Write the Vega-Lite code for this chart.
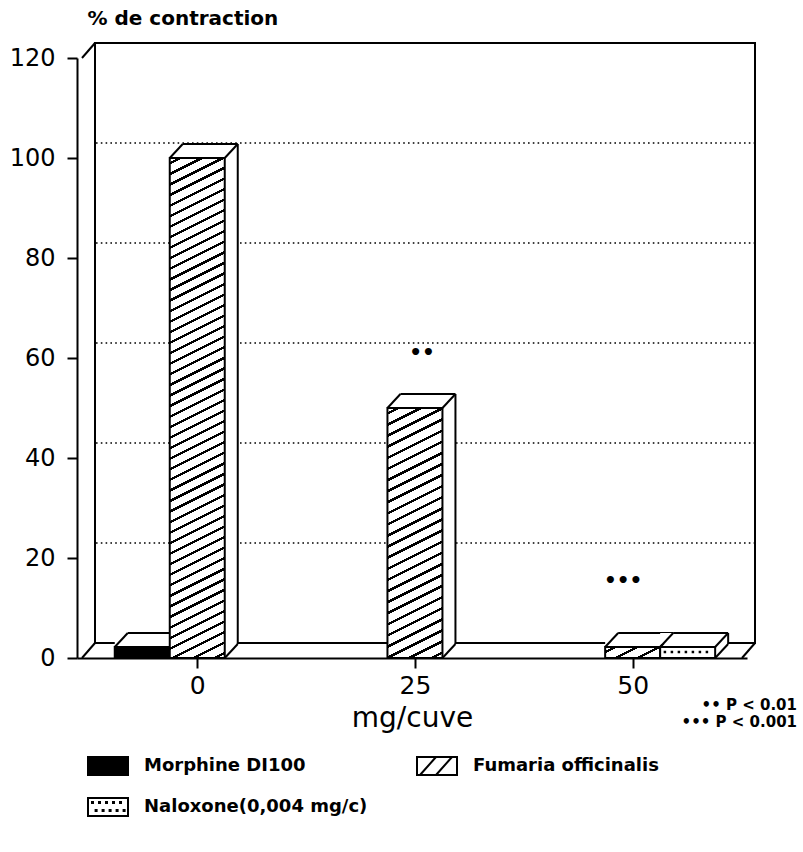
{
  "$schema": "https://vega.github.io/schema/vega-lite/v6.json",
  "width": 670,
  "height": 600,
  "autosize": {"type": "none"},
  "padding": {"left": 77, "top": 58, "right": 56, "bottom": 194},
  "background": "white",
  "config": {"view": {"stroke": null}, "font": "DejaVu Sans"},
  "datasets": {
    "bars": [
      {"dose": 0, "series": "Morphine DI100", "value": 2.2},
      {"dose": 0, "series": "Fumaria officinalis", "value": 100},
      {"dose": 25, "series": "Fumaria officinalis", "value": 50},
      {"dose": 50, "series": "Fumaria officinalis", "value": 2.2},
      {"dose": 50, "series": "Naloxone(0,004 mg/c)", "value": 2.2}
    ],
    "grid": [{"value": 20}, {"value": 40}, {"value": 60}, {"value": 80}, {"value": 100}],
    "stars": [
      {"dose": 25.8, "value": 61, "label": "••"},
      {"dose": 48.9, "value": 15.4, "label": "•••"}
    ],
    "frame": [{}]
  },
  "layer": [
    {
      "data": {"name": "frame"},
      "mark": {"type": "rect", "fill": "transparent", "stroke": "black", "strokeWidth": 2, "xOffset": 13, "x2Offset": 13, "yOffset": -15, "y2Offset": -15},
      "encoding": {
        "x": {"datum": -13.235, "type": "quantitative"},
        "x2": {"datum": 62.557},
        "y": {"datum": 0, "type": "quantitative"},
        "y2": {"datum": 120}
      }
    },
    {
      "data": {"name": "grid"},
      "mark": {"type": "rule", "stroke": "black", "strokeWidth": 1.6, "strokeDash": [1.6, 3.2], "xOffset": 14, "x2Offset": 12, "yOffset": -15, "y2Offset": -15},
      "encoding": {
        "x": {"datum": -13.235, "type": "quantitative"},
        "x2": {"datum": 62.557},
        "y": {"field": "value", "type": "quantitative"},
        "y2": {"field": "value"}
      }
    },
    {
      "data": {"name": "frame"},
      "mark": {"type": "rule", "stroke": "black", "strokeWidth": 2, "x2Offset": 13, "y2Offset": -15},
      "encoding": {"x": {"datum": -13.235, "type": "quantitative"}, "x2": {"datum": -13.235}, "y": {"datum": 120, "type": "quantitative"}, "y2": {"datum": 120}}
    },
    {
      "data": {"name": "frame"},
      "mark": {"type": "rule", "stroke": "black", "strokeWidth": 2, "x2Offset": 13, "y2Offset": -15},
      "encoding": {"x": {"datum": -13.235, "type": "quantitative"}, "x2": {"datum": -13.235}, "y": {"datum": 0, "type": "quantitative"}, "y2": {"datum": 0}}
    },
    {
      "data": {"name": "frame"},
      "mark": {"type": "rule", "stroke": "black", "strokeWidth": 2, "x2Offset": 13, "y2Offset": -15},
      "encoding": {"x": {"datum": 62.557, "type": "quantitative"}, "x2": {"datum": 62.557}, "y": {"datum": 0, "type": "quantitative"}, "y2": {"datum": 0}}
    },
    {
      "data": {"name": "bars"},
      "mark": {"type": "point", "filled": true, "opacity": 0, "stroke": "black"},
      "encoding": {
        "x": {"field": "dose", "type": "quantitative", "scale": {"domain": [-13.235, 62.557], "nice": false, "zero": false},
          "axis": {"values": [0, 25, 50], "title": "mg/cuve", "grid": false, "domainColor": "black", "domainWidth": 2, "tickColor": "black", "tickWidth": 2, "tickSize": 10, "labelFont": "DejaVu Sans", "labelFontSize": 25, "labelColor": "black", "labelPadding": 5, "labelFlush": false, "titleFont": "DejaVu Sans", "titleFontSize": 28, "titleFontWeight": "normal", "titleColor": "black", "titlePadding": 6}},
        "y": {"field": "value", "type": "quantitative", "scale": {"domain": [0, 120], "nice": false, "zero": true},
          "axis": {"values": [0, 20, 40, 60, 80, 100, 120], "title": "% de contraction", "grid": false, "domainColor": "black", "domainWidth": 2, "tickColor": "black", "tickWidth": 2, "tickSize": 10, "labelFont": "DejaVu Sans", "labelFontSize": 24, "labelColor": "black", "labelPadding": 12, "titleFont": "DejaVu Sans", "titleFontSize": 20, "titleFontWeight": "bold", "titleColor": "black", "titleAngle": 0, "titleAlign": "left", "titleBaseline": "middle", "titleX": 10, "titleY": -40}},
        "color": {"field": "series", "type": "nominal",
          "scale": {"domain": ["Morphine DI100", "Fumaria officinalis", "Naloxone(0,004 mg/c)"], "range": ["black", "white", "white"]},
          "legend": {"orient": "none", "legendX": 10, "legendY": 687, "direction": "horizontal", "columns": 2, "title": null, "symbolSize": 1600, "symbolStrokeWidth": 2, "symbolStrokeColor": "black", "symbolOpacity": 1, "labelFont": "DejaVu Sans", "labelFontSize": 18, "labelFontWeight": "bold", "labelColor": "black", "labelOffset": 15, "labelLimit": 400, "columnPadding": 45, "rowPadding": 7, "padding": 0,
            "encode": {"symbols": {"update": {"stroke": {"value": "black"}, "strokeWidth": {"value": 2}, "opacity": {"value": 1}}}}}},
        "shape": {"field": "series", "type": "nominal",
          "scale": {"domain": ["Morphine DI100", "Fumaria officinalis", "Naloxone(0,004 mg/c)"],
            "range": [
              "M-1,-0.45H1V0.45H-1Z",
              "M-1,-0.45H1V0.45H-1Z M-0.85,0.45L-0.05,-0.45 M-0.05,0.45L0.75,-0.45",
              "M-1,-0.45H1V0.45H-1Z M-0.8,-0.25h0.05v0.05h-0.05Z M-0.45,-0.25h0.05v0.05h-0.05Z M-0.1,-0.25h0.05v0.05h-0.05Z M0.25,-0.25h0.05v0.05h-0.05Z M0.6,-0.25h0.05v0.05h-0.05Z M-0.62,0.15h0.05v0.05h-0.05Z M-0.27,0.15h0.05v0.05h-0.05Z M0.08,0.15h0.05v0.05h-0.05Z M0.43,0.15h0.05v0.05h-0.05Z M0.78,0.15h0.05v0.05h-0.05Z"
            ]},
          "legend": {"orient": "none", "legendX": 10, "legendY": 687, "direction": "horizontal", "columns": 2, "title": null, "symbolSize": 1600, "symbolStrokeWidth": 2, "symbolStrokeColor": "black", "symbolOpacity": 1, "labelFont": "DejaVu Sans", "labelFontSize": 18, "labelFontWeight": "bold", "labelColor": "black", "labelOffset": 15, "labelLimit": 400, "columnPadding": 45, "rowPadding": 7, "padding": 0,
            "encode": {"symbols": {"update": {"stroke": {"value": "black"}, "strokeWidth": {"value": 2}, "opacity": {"value": 1}}}}}}
      }
    },
    {
      "data": {"name": "bars"},
      "transform": [{"filter": {"field": "series", "equal": "Morphine DI100"}}],
      "mark": {"type": "bar", "orient": "vertical", "width": 68, "xOffset": -48.5, "yOffset": -14, "y2Offset": -14, "fill": "white", "strokeWidth": 0},
      "encoding": {"x": {"field": "dose", "type": "quantitative"}, "y": {"field": "value", "type": "quantitative", "stack": null}, "y2": {"datum": 0}}
    },
    {
      "data": {"name": "bars"},
      "transform": [{"filter": {"field": "series", "equal": "Morphine DI100"}}],
      "mark": {"type": "bar", "orient": "vertical", "width": 55, "xOffset": -55, "fill": "black", "stroke": "black", "strokeWidth": 2},
      "encoding": {"x": {"field": "dose", "type": "quantitative"}, "y": {"field": "value", "type": "quantitative", "stack": null}, "y2": {"datum": 0}}
    },
    {
      "data": {"name": "bars"},
      "transform": [{"filter": {"field": "series", "equal": "Morphine DI100"}}],
      "mark": {"type": "rule", "stroke": "black", "strokeWidth": 2, "xOffset": -69.5, "x2Offset": -14.5, "yOffset": -14, "y2Offset": -14},
      "encoding": {"x": {"field": "dose", "type": "quantitative"}, "x2": {"field": "dose"}, "y": {"field": "value", "type": "quantitative"}, "y2": {"field": "value"}}
    },
    {
      "data": {"name": "bars"},
      "transform": [{"filter": {"field": "series", "equal": "Morphine DI100"}}],
      "mark": {"type": "rule", "stroke": "black", "strokeWidth": 2, "xOffset": -82.5, "x2Offset": -69.5, "y2Offset": -14},
      "encoding": {"x": {"field": "dose", "type": "quantitative"}, "x2": {"field": "dose"}, "y": {"field": "value", "type": "quantitative"}, "y2": {"field": "value"}}
    },
    {
      "data": {"name": "bars"},
      "transform": [{"filter": {"field": "series", "equal": "Fumaria officinalis"}}],
      "mark": {"type": "bar", "orient": "vertical", "width": 68, "xOffset": 6.5, "yOffset": -14, "y2Offset": -14, "fill": "white", "strokeWidth": 0},
      "encoding": {"x": {"field": "dose", "type": "quantitative"}, "y": {"field": "value", "type": "quantitative", "stack": null}, "y2": {"datum": 0}}
    },
    {
      "data": {"name": "bars"},
      "transform": [{"filter": {"field": "series", "equal": "Fumaria officinalis"}}, {"filter": {"field": "dose", "equal": 0}}],
      "mark": {"type": "bar", "orient": "vertical", "width": 55, "stroke": "black", "strokeWidth": 2,
        "fill": {"gradient": "linear", "x1": 0, "y1": 0, "x2": 0.05785, "y2": 1.05182, "stops": [
          {"offset": 0.008, "color": "#fff"}, {"offset": 0.008, "color": "#000"}, {"offset": 0.013, "color": "#000"}, {"offset": 0.013, "color": "#fff"},
          {"offset": 0.028, "color": "#fff"}, {"offset": 0.028, "color": "#000"}, {"offset": 0.033, "color": "#000"}, {"offset": 0.033, "color": "#fff"},
          {"offset": 0.048, "color": "#fff"}, {"offset": 0.048, "color": "#000"}, {"offset": 0.053, "color": "#000"}, {"offset": 0.053, "color": "#fff"},
          {"offset": 0.068, "color": "#fff"}, {"offset": 0.068, "color": "#000"}, {"offset": 0.073, "color": "#000"}, {"offset": 0.073, "color": "#fff"},
          {"offset": 0.088, "color": "#fff"}, {"offset": 0.088, "color": "#000"}, {"offset": 0.093, "color": "#000"}, {"offset": 0.093, "color": "#fff"},
          {"offset": 0.108, "color": "#fff"}, {"offset": 0.108, "color": "#000"}, {"offset": 0.113, "color": "#000"}, {"offset": 0.113, "color": "#fff"},
          {"offset": 0.128, "color": "#fff"}, {"offset": 0.128, "color": "#000"}, {"offset": 0.133, "color": "#000"}, {"offset": 0.133, "color": "#fff"},
          {"offset": 0.148, "color": "#fff"}, {"offset": 0.148, "color": "#000"}, {"offset": 0.153, "color": "#000"}, {"offset": 0.153, "color": "#fff"},
          {"offset": 0.168, "color": "#fff"}, {"offset": 0.168, "color": "#000"}, {"offset": 0.173, "color": "#000"}, {"offset": 0.173, "color": "#fff"},
          {"offset": 0.188, "color": "#fff"}, {"offset": 0.188, "color": "#000"}, {"offset": 0.193, "color": "#000"}, {"offset": 0.193, "color": "#fff"},
          {"offset": 0.208, "color": "#fff"}, {"offset": 0.208, "color": "#000"}, {"offset": 0.213, "color": "#000"}, {"offset": 0.213, "color": "#fff"},
          {"offset": 0.228, "color": "#fff"}, {"offset": 0.228, "color": "#000"}, {"offset": 0.233, "color": "#000"}, {"offset": 0.233, "color": "#fff"},
          {"offset": 0.248, "color": "#fff"}, {"offset": 0.248, "color": "#000"}, {"offset": 0.253, "color": "#000"}, {"offset": 0.253, "color": "#fff"},
          {"offset": 0.268, "color": "#fff"}, {"offset": 0.268, "color": "#000"}, {"offset": 0.273, "color": "#000"}, {"offset": 0.273, "color": "#fff"},
          {"offset": 0.288, "color": "#fff"}, {"offset": 0.288, "color": "#000"}, {"offset": 0.293, "color": "#000"}, {"offset": 0.293, "color": "#fff"},
          {"offset": 0.308, "color": "#fff"}, {"offset": 0.308, "color": "#000"}, {"offset": 0.313, "color": "#000"}, {"offset": 0.313, "color": "#fff"},
          {"offset": 0.328, "color": "#fff"}, {"offset": 0.328, "color": "#000"}, {"offset": 0.333, "color": "#000"}, {"offset": 0.333, "color": "#fff"},
          {"offset": 0.348, "color": "#fff"}, {"offset": 0.348, "color": "#000"}, {"offset": 0.353, "color": "#000"}, {"offset": 0.353, "color": "#fff"},
          {"offset": 0.368, "color": "#fff"}, {"offset": 0.368, "color": "#000"}, {"offset": 0.373, "color": "#000"}, {"offset": 0.373, "color": "#fff"},
          {"offset": 0.388, "color": "#fff"}, {"offset": 0.388, "color": "#000"}, {"offset": 0.393, "color": "#000"}, {"offset": 0.393, "color": "#fff"},
          {"offset": 0.408, "color": "#fff"}, {"offset": 0.408, "color": "#000"}, {"offset": 0.413, "color": "#000"}, {"offset": 0.413, "color": "#fff"},
          {"offset": 0.428, "color": "#fff"}, {"offset": 0.428, "color": "#000"}, {"offset": 0.433, "color": "#000"}, {"offset": 0.433, "color": "#fff"},
          {"offset": 0.448, "color": "#fff"}, {"offset": 0.448, "color": "#000"}, {"offset": 0.453, "color": "#000"}, {"offset": 0.453, "color": "#fff"},
          {"offset": 0.468, "color": "#fff"}, {"offset": 0.468, "color": "#000"}, {"offset": 0.473, "color": "#000"}, {"offset": 0.473, "color": "#fff"},
          {"offset": 0.488, "color": "#fff"}, {"offset": 0.488, "color": "#000"}, {"offset": 0.493, "color": "#000"}, {"offset": 0.493, "color": "#fff"},
          {"offset": 0.508, "color": "#fff"}, {"offset": 0.508, "color": "#000"}, {"offset": 0.513, "color": "#000"}, {"offset": 0.513, "color": "#fff"},
          {"offset": 0.528, "color": "#fff"}, {"offset": 0.528, "color": "#000"}, {"offset": 0.533, "color": "#000"}, {"offset": 0.533, "color": "#fff"},
          {"offset": 0.548, "color": "#fff"}, {"offset": 0.548, "color": "#000"}, {"offset": 0.553, "color": "#000"}, {"offset": 0.553, "color": "#fff"},
          {"offset": 0.568, "color": "#fff"}, {"offset": 0.568, "color": "#000"}, {"offset": 0.573, "color": "#000"}, {"offset": 0.573, "color": "#fff"},
          {"offset": 0.588, "color": "#fff"}, {"offset": 0.588, "color": "#000"}, {"offset": 0.593, "color": "#000"}, {"offset": 0.593, "color": "#fff"},
          {"offset": 0.608, "color": "#fff"}, {"offset": 0.608, "color": "#000"}, {"offset": 0.613, "color": "#000"}, {"offset": 0.613, "color": "#fff"},
          {"offset": 0.628, "color": "#fff"}, {"offset": 0.628, "color": "#000"}, {"offset": 0.633, "color": "#000"}, {"offset": 0.633, "color": "#fff"},
          {"offset": 0.648, "color": "#fff"}, {"offset": 0.648, "color": "#000"}, {"offset": 0.653, "color": "#000"}, {"offset": 0.653, "color": "#fff"},
          {"offset": 0.668, "color": "#fff"}, {"offset": 0.668, "color": "#000"}, {"offset": 0.673, "color": "#000"}, {"offset": 0.673, "color": "#fff"},
          {"offset": 0.688, "color": "#fff"}, {"offset": 0.688, "color": "#000"}, {"offset": 0.693, "color": "#000"}, {"offset": 0.693, "color": "#fff"},
          {"offset": 0.708, "color": "#fff"}, {"offset": 0.708, "color": "#000"}, {"offset": 0.713, "color": "#000"}, {"offset": 0.713, "color": "#fff"},
          {"offset": 0.728, "color": "#fff"}, {"offset": 0.728, "color": "#000"}, {"offset": 0.733, "color": "#000"}, {"offset": 0.733, "color": "#fff"},
          {"offset": 0.748, "color": "#fff"}, {"offset": 0.748, "color": "#000"}, {"offset": 0.753, "color": "#000"}, {"offset": 0.753, "color": "#fff"},
          {"offset": 0.768, "color": "#fff"}, {"offset": 0.768, "color": "#000"}, {"offset": 0.773, "color": "#000"}, {"offset": 0.773, "color": "#fff"},
          {"offset": 0.788, "color": "#fff"}, {"offset": 0.788, "color": "#000"}, {"offset": 0.793, "color": "#000"}, {"offset": 0.793, "color": "#fff"},
          {"offset": 0.808, "color": "#fff"}, {"offset": 0.808, "color": "#000"}, {"offset": 0.813, "color": "#000"}, {"offset": 0.813, "color": "#fff"},
          {"offset": 0.828, "color": "#fff"}, {"offset": 0.828, "color": "#000"}, {"offset": 0.833, "color": "#000"}, {"offset": 0.833, "color": "#fff"},
          {"offset": 0.848, "color": "#fff"}, {"offset": 0.848, "color": "#000"}, {"offset": 0.853, "color": "#000"}, {"offset": 0.853, "color": "#fff"},
          {"offset": 0.868, "color": "#fff"}, {"offset": 0.868, "color": "#000"}, {"offset": 0.873, "color": "#000"}, {"offset": 0.873, "color": "#fff"},
          {"offset": 0.888, "color": "#fff"}, {"offset": 0.888, "color": "#000"}, {"offset": 0.893, "color": "#000"}, {"offset": 0.893, "color": "#fff"},
          {"offset": 0.908, "color": "#fff"}, {"offset": 0.908, "color": "#000"}, {"offset": 0.913, "color": "#000"}, {"offset": 0.913, "color": "#fff"},
          {"offset": 0.928, "color": "#fff"}, {"offset": 0.928, "color": "#000"}, {"offset": 0.933, "color": "#000"}, {"offset": 0.933, "color": "#fff"},
          {"offset": 0.948, "color": "#fff"}, {"offset": 0.948, "color": "#000"}, {"offset": 0.953, "color": "#000"}, {"offset": 0.953, "color": "#fff"},
          {"offset": 0.968, "color": "#fff"}, {"offset": 0.968, "color": "#000"}, {"offset": 0.973, "color": "#000"}, {"offset": 0.973, "color": "#fff"},
          {"offset": 0.988, "color": "#fff"}, {"offset": 0.988, "color": "#000"}, {"offset": 0.993, "color": "#000"}, {"offset": 0.993, "color": "#fff"}
        ]}},
      "encoding": {"x": {"field": "dose", "type": "quantitative"}, "y": {"field": "value", "type": "quantitative", "stack": null}, "y2": {"datum": 0}}
    },
    {
      "data": {"name": "bars"},
      "transform": [{"filter": {"field": "series", "equal": "Fumaria officinalis"}}, {"filter": {"field": "dose", "equal": 25}}],
      "mark": {"type": "bar", "orient": "vertical", "width": 55, "stroke": "black", "strokeWidth": 2,
        "fill": {"gradient": "linear", "x1": 0, "y1": 0, "x2": 0.12064, "y2": 1.09673, "stops": [
          {"offset": 0.015, "color": "#fff"}, {"offset": 0.015, "color": "#000"}, {"offset": 0.025, "color": "#000"}, {"offset": 0.025, "color": "#fff"},
          {"offset": 0.055, "color": "#fff"}, {"offset": 0.055, "color": "#000"}, {"offset": 0.065, "color": "#000"}, {"offset": 0.065, "color": "#fff"},
          {"offset": 0.095, "color": "#fff"}, {"offset": 0.095, "color": "#000"}, {"offset": 0.105, "color": "#000"}, {"offset": 0.105, "color": "#fff"},
          {"offset": 0.135, "color": "#fff"}, {"offset": 0.135, "color": "#000"}, {"offset": 0.145, "color": "#000"}, {"offset": 0.145, "color": "#fff"},
          {"offset": 0.175, "color": "#fff"}, {"offset": 0.175, "color": "#000"}, {"offset": 0.185, "color": "#000"}, {"offset": 0.185, "color": "#fff"},
          {"offset": 0.215, "color": "#fff"}, {"offset": 0.215, "color": "#000"}, {"offset": 0.225, "color": "#000"}, {"offset": 0.225, "color": "#fff"},
          {"offset": 0.255, "color": "#fff"}, {"offset": 0.255, "color": "#000"}, {"offset": 0.265, "color": "#000"}, {"offset": 0.265, "color": "#fff"},
          {"offset": 0.295, "color": "#fff"}, {"offset": 0.295, "color": "#000"}, {"offset": 0.305, "color": "#000"}, {"offset": 0.305, "color": "#fff"},
          {"offset": 0.335, "color": "#fff"}, {"offset": 0.335, "color": "#000"}, {"offset": 0.345, "color": "#000"}, {"offset": 0.345, "color": "#fff"},
          {"offset": 0.375, "color": "#fff"}, {"offset": 0.375, "color": "#000"}, {"offset": 0.385, "color": "#000"}, {"offset": 0.385, "color": "#fff"},
          {"offset": 0.415, "color": "#fff"}, {"offset": 0.415, "color": "#000"}, {"offset": 0.425, "color": "#000"}, {"offset": 0.425, "color": "#fff"},
          {"offset": 0.455, "color": "#fff"}, {"offset": 0.455, "color": "#000"}, {"offset": 0.465, "color": "#000"}, {"offset": 0.465, "color": "#fff"},
          {"offset": 0.495, "color": "#fff"}, {"offset": 0.495, "color": "#000"}, {"offset": 0.505, "color": "#000"}, {"offset": 0.505, "color": "#fff"},
          {"offset": 0.535, "color": "#fff"}, {"offset": 0.535, "color": "#000"}, {"offset": 0.545, "color": "#000"}, {"offset": 0.545, "color": "#fff"},
          {"offset": 0.575, "color": "#fff"}, {"offset": 0.575, "color": "#000"}, {"offset": 0.585, "color": "#000"}, {"offset": 0.585, "color": "#fff"},
          {"offset": 0.615, "color": "#fff"}, {"offset": 0.615, "color": "#000"}, {"offset": 0.625, "color": "#000"}, {"offset": 0.625, "color": "#fff"},
          {"offset": 0.655, "color": "#fff"}, {"offset": 0.655, "color": "#000"}, {"offset": 0.665, "color": "#000"}, {"offset": 0.665, "color": "#fff"},
          {"offset": 0.695, "color": "#fff"}, {"offset": 0.695, "color": "#000"}, {"offset": 0.705, "color": "#000"}, {"offset": 0.705, "color": "#fff"},
          {"offset": 0.735, "color": "#fff"}, {"offset": 0.735, "color": "#000"}, {"offset": 0.745, "color": "#000"}, {"offset": 0.745, "color": "#fff"},
          {"offset": 0.775, "color": "#fff"}, {"offset": 0.775, "color": "#000"}, {"offset": 0.785, "color": "#000"}, {"offset": 0.785, "color": "#fff"},
          {"offset": 0.815, "color": "#fff"}, {"offset": 0.815, "color": "#000"}, {"offset": 0.825, "color": "#000"}, {"offset": 0.825, "color": "#fff"},
          {"offset": 0.855, "color": "#fff"}, {"offset": 0.855, "color": "#000"}, {"offset": 0.865, "color": "#000"}, {"offset": 0.865, "color": "#fff"},
          {"offset": 0.895, "color": "#fff"}, {"offset": 0.895, "color": "#000"}, {"offset": 0.905, "color": "#000"}, {"offset": 0.905, "color": "#fff"},
          {"offset": 0.935, "color": "#fff"}, {"offset": 0.935, "color": "#000"}, {"offset": 0.945, "color": "#000"}, {"offset": 0.945, "color": "#fff"},
          {"offset": 0.975, "color": "#fff"}, {"offset": 0.975, "color": "#000"}, {"offset": 0.985, "color": "#000"}, {"offset": 0.985, "color": "#fff"}
        ]}},
      "encoding": {"x": {"field": "dose", "type": "quantitative"}, "y": {"field": "value", "type": "quantitative", "stack": null}, "y2": {"datum": 0}}
    },
    {
      "data": {"name": "bars"},
      "transform": [{"filter": {"field": "series", "equal": "Fumaria officinalis"}}, {"filter": {"field": "dose", "equal": 50}}],
      "mark": {"type": "bar", "orient": "vertical", "width": 55, "stroke": "black", "strokeWidth": 2,
        "fill": {"gradient": "linear", "x1": 0, "y1": 0, "x2": 1.2069, "y2": 0.48276, "stops": [
          {"offset": 0.1, "color": "#fff"}, {"offset": 0.1, "color": "#000"}, {"offset": 0.17, "color": "#000"}, {"offset": 0.17, "color": "#fff"},
          {"offset": 0.386, "color": "#fff"}, {"offset": 0.386, "color": "#000"}, {"offset": 0.456, "color": "#000"}, {"offset": 0.456, "color": "#fff"},
          {"offset": 0.671, "color": "#fff"}, {"offset": 0.671, "color": "#000"}, {"offset": 0.741, "color": "#000"}, {"offset": 0.741, "color": "#fff"}
        ]}},
      "encoding": {"x": {"field": "dose", "type": "quantitative"}, "y": {"field": "value", "type": "quantitative", "stack": null}, "y2": {"datum": 0}}
    },
    {
      "data": {"name": "bars"},
      "transform": [{"filter": {"field": "series", "equal": "Fumaria officinalis"}}],
      "mark": {"type": "rule", "stroke": "black", "strokeWidth": 2, "xOffset": -14.5, "x2Offset": 40.5, "yOffset": -14, "y2Offset": -14},
      "encoding": {"x": {"field": "dose", "type": "quantitative"}, "x2": {"field": "dose"}, "y": {"field": "value", "type": "quantitative"}, "y2": {"field": "value"}}
    },
    {
      "data": {"name": "bars"},
      "transform": [{"filter": {"field": "series", "equal": "Fumaria officinalis"}}],
      "mark": {"type": "rule", "stroke": "black", "strokeWidth": 2, "xOffset": 40.5, "x2Offset": 40.5, "yOffset": -14, "y2Offset": -14},
      "encoding": {"x": {"field": "dose", "type": "quantitative"}, "x2": {"field": "dose"}, "y": {"field": "value", "type": "quantitative"}, "y2": {"datum": 0}}
    },
    {
      "data": {"name": "bars"},
      "transform": [{"filter": {"field": "series", "equal": "Fumaria officinalis"}}],
      "mark": {"type": "rule", "stroke": "black", "strokeWidth": 2, "xOffset": -27.5, "x2Offset": -14.5, "y2Offset": -14},
      "encoding": {"x": {"field": "dose", "type": "quantitative"}, "x2": {"field": "dose"}, "y": {"field": "value", "type": "quantitative"}, "y2": {"field": "value"}}
    },
    {
      "data": {"name": "bars"},
      "transform": [{"filter": {"field": "series", "equal": "Fumaria officinalis"}}],
      "mark": {"type": "rule", "stroke": "black", "strokeWidth": 2, "xOffset": 27.5, "x2Offset": 40.5, "y2Offset": -14},
      "encoding": {"x": {"field": "dose", "type": "quantitative"}, "x2": {"field": "dose"}, "y": {"field": "value", "type": "quantitative"}, "y2": {"field": "value"}}
    },
    {
      "data": {"name": "bars"},
      "transform": [{"filter": {"field": "series", "equal": "Fumaria officinalis"}}, {"filter": "datum.dose < 50"}],
      "mark": {"type": "rule", "stroke": "black", "strokeWidth": 2, "xOffset": 27.5, "x2Offset": 40.5, "y2Offset": -14},
      "encoding": {"x": {"field": "dose", "type": "quantitative"}, "x2": {"field": "dose"}, "y": {"datum": 0, "type": "quantitative"}, "y2": {"datum": 0}}
    },
    {
      "data": {"name": "bars"},
      "transform": [{"filter": {"field": "series", "equal": "Naloxone(0,004 mg/c)"}}],
      "mark": {"type": "bar", "orient": "vertical", "width": 68, "xOffset": 61.5, "yOffset": -14, "y2Offset": -14, "fill": "white", "strokeWidth": 0},
      "encoding": {"x": {"field": "dose", "type": "quantitative"}, "y": {"field": "value", "type": "quantitative", "stack": null}, "y2": {"datum": 0}}
    },
    {
      "data": {"name": "bars"},
      "transform": [{"filter": {"field": "series", "equal": "Naloxone(0,004 mg/c)"}}],
      "mark": {"type": "bar", "orient": "vertical", "width": 55, "xOffset": 55, "fill": "white", "stroke": "black", "strokeWidth": 2},
      "encoding": {"x": {"field": "dose", "type": "quantitative"}, "y": {"field": "value", "type": "quantitative", "stack": null}, "y2": {"datum": 0}}
    },
    {
      "data": {"name": "bars"},
      "transform": [{"filter": {"field": "series", "equal": "Naloxone(0,004 mg/c)"}}],
      "mark": {"type": "rule", "stroke": "black", "strokeWidth": 2.5, "strokeDash": [2.5, 4.5], "xOffset": 31, "x2Offset": 80, "yOffset": 5, "y2Offset": 5},
      "encoding": {"x": {"field": "dose", "type": "quantitative"}, "x2": {"field": "dose"}, "y": {"field": "value", "type": "quantitative"}, "y2": {"field": "value"}}
    },
    {
      "data": {"name": "bars"},
      "transform": [{"filter": {"field": "series", "equal": "Naloxone(0,004 mg/c)"}}],
      "mark": {"type": "rule", "stroke": "black", "strokeWidth": 2, "xOffset": 40.5, "x2Offset": 95.5, "yOffset": -14, "y2Offset": -14},
      "encoding": {"x": {"field": "dose", "type": "quantitative"}, "x2": {"field": "dose"}, "y": {"field": "value", "type": "quantitative"}, "y2": {"field": "value"}}
    },
    {
      "data": {"name": "bars"},
      "transform": [{"filter": {"field": "series", "equal": "Naloxone(0,004 mg/c)"}}],
      "mark": {"type": "rule", "stroke": "black", "strokeWidth": 2, "xOffset": 95.5, "x2Offset": 95.5, "yOffset": -14, "y2Offset": -14},
      "encoding": {"x": {"field": "dose", "type": "quantitative"}, "x2": {"field": "dose"}, "y": {"field": "value", "type": "quantitative"}, "y2": {"datum": 0}}
    },
    {
      "data": {"name": "bars"},
      "transform": [{"filter": {"field": "series", "equal": "Naloxone(0,004 mg/c)"}}],
      "mark": {"type": "rule", "stroke": "black", "strokeWidth": 2, "xOffset": 27.5, "x2Offset": 40.5, "y2Offset": -14},
      "encoding": {"x": {"field": "dose", "type": "quantitative"}, "x2": {"field": "dose"}, "y": {"field": "value", "type": "quantitative"}, "y2": {"field": "value"}}
    },
    {
      "data": {"name": "bars"},
      "transform": [{"filter": {"field": "series", "equal": "Naloxone(0,004 mg/c)"}}],
      "mark": {"type": "rule", "stroke": "black", "strokeWidth": 2, "xOffset": 82.5, "x2Offset": 95.5, "y2Offset": -14},
      "encoding": {"x": {"field": "dose", "type": "quantitative"}, "x2": {"field": "dose"}, "y": {"field": "value", "type": "quantitative"}, "y2": {"field": "value"}}
    },
    {
      "data": {"name": "bars"},
      "transform": [{"filter": {"field": "series", "equal": "Naloxone(0,004 mg/c)"}}],
      "mark": {"type": "rule", "stroke": "black", "strokeWidth": 2, "xOffset": 82.5, "x2Offset": 95.5, "y2Offset": -14},
      "encoding": {"x": {"field": "dose", "type": "quantitative"}, "x2": {"field": "dose"}, "y": {"datum": 0, "type": "quantitative"}, "y2": {"datum": 0}}
    },
    {
      "data": {"name": "stars"},
      "mark": {"type": "text", "font": "DejaVu Sans", "fontSize": 20, "fontWeight": "bold", "color": "black", "align": "center", "baseline": "middle"},
      "encoding": {"x": {"field": "dose", "type": "quantitative"}, "y": {"field": "value", "type": "quantitative"}, "text": {"field": "label"}}
    },
    {
      "data": {"name": "frame"},
      "mark": {"type": "text", "font": "DejaVu Sans", "fontSize": 15, "fontWeight": "bold", "color": "black", "align": "right", "baseline": "top", "dx": 55, "dy": 40, "lineHeight": 17},
      "encoding": {"x": {"datum": 62.557, "type": "quantitative"}, "y": {"datum": 0, "type": "quantitative"}, "text": {"value": ["•• P < 0.01", "••• P < 0.001"]}}
    }
  ]
}
